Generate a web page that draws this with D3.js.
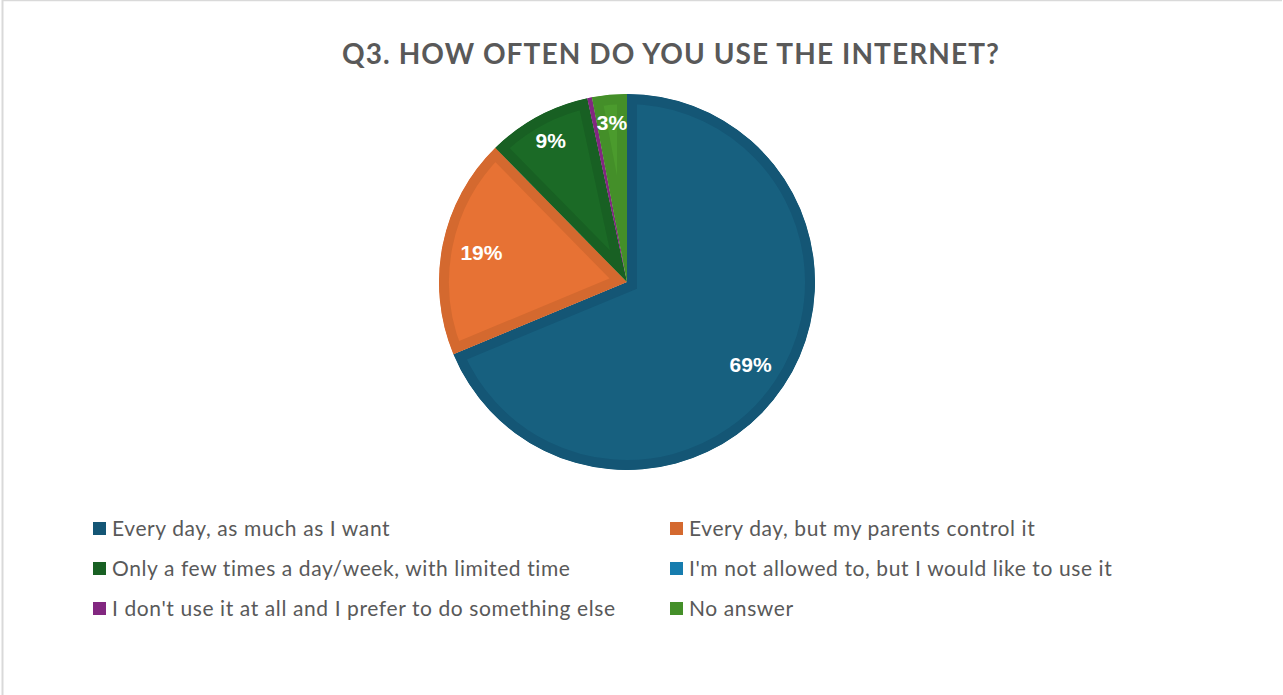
<!DOCTYPE html>
<html>
<head>
<meta charset="utf-8">
<script src="https://cdn.jsdelivr.net/npm/d3@7"></script>
<style>
  html, body { margin: 0; padding: 0; background: #ffffff; }
  svg { display: block; }
</style>
</head>
<body>
<svg id="chart" width="1283" height="695"></svg>
<script>
// Survey answers (share of respondents, %)
const categories = [
  "Every day, as much as I want",
  "Every day, but my parents control it",
  "Only a few times a day/week, with limited time",
  "I'm not allowed to, but I would like to use it",
  "I don't use it at all and I prefer to do something else",
  "No answer"
];
const values = [69, 19, 9, 0, 0.4, 3];
const fillColors   = ["#17607f", "#e77234", "#1b6a26", "#1a8ac0", "#8e2b8c", "#4b9b2d"];
const borderColors = ["#145675", "#d4692f", "#186023", "#167cae", "#822780", "#448f29"];
const title = "Q3. HOW OFTEN DO YOU USE THE INTERNET?";

const W = 1283, H = 695;
const svg = d3.select("#chart");

// chart frame
svg.append("line").attr("x1", 2.5).attr("x2", 2.5).attr("y1", 0).attr("y2", H)
  .attr("stroke", "#d9d9d9").attr("stroke-width", 2);
svg.append("line").attr("x1", 2).attr("x2", 1282).attr("y1", 0.5).attr("y2", 0.5)
  .attr("stroke", "#d9d9d9").attr("stroke-width", 1.5);

// title
svg.append("text")
  .attr("x", 671).attr("y", 64)
  .attr("text-anchor", "middle")
  .attr("font-family", "Lato, 'Open Sans', sans-serif")
  .attr("font-weight", 700)
  .attr("font-size", 28)
  .attr("letter-spacing", 1.1)
  .attr("fill", "#595959")
  .text(title);

// pie
const cx = 627, cy = 282, r = 188, inset = 10;
const data = categories.map((c, i) => ({ name: c, value: values[i], i }));
const pie = d3.pie().value(d => d.value).sort(null);
const arcs = pie(data);
const arc = d3.arc().innerRadius(0).outerRadius(r);

const defs = svg.append("defs");
const slices = svg.append("g");

// each slice: fill plus a darker inner border (stroke clipped to the slice)
arcs.forEach((a, k) => {
  if (a.data.value <= 0) return;
  const id = "slice-clip-" + k;
  defs.append("clipPath").attr("id", id).append("path").attr("d", arc(a))
    .attr("transform", `translate(${cx},${cy})`);
  const sg = slices.append("g").attr("clip-path", `url(#${id})`)
    .append("g").attr("transform", `translate(${cx},${cy})`);
  sg.append("path")
    .attr("d", arc(a))
    .attr("fill", fillColors[a.data.i])
    .attr("stroke", borderColors[a.data.i])
    .attr("stroke-width", inset * 2)
    .attr("stroke-linejoin", "miter");
});

// value labels
const labels = svg.append("g").attr("transform", `translate(${cx},${cy})`);
const total = d3.sum(values);
arcs.forEach(a => {
  const pct = a.data.value / total * 100;
  if (pct < 1) return;
  const lr = pct > 15 ? r * 0.79 : r * 0.855;
  const la = d3.arc().innerRadius(lr).outerRadius(lr);
  const [x, y] = la.centroid(a);
  labels.append("text")
    .attr("x", x).attr("y", y)
    .attr("text-anchor", "middle")
    .attr("dy", "0.36em")
    .attr("font-family", "'Liberation Sans', Arial, sans-serif")
    .attr("font-weight", 700)
    .attr("font-size", 21)
    .attr("fill", "#ffffff")
    .text(Math.round(a.data.value) + "%");
});

// legend: two columns, three rows
const legend = svg.append("g");
const colX = [93, 670], rowY = [529, 569, 609];
data.forEach((d, i) => {
  const col = i % 2, row = Math.floor(i / 2);
  const lg = legend.append("g").attr("transform", `translate(${colX[col]},${rowY[row]})`);
  lg.append("rect").attr("x", 0).attr("y", -7).attr("width", 13).attr("height", 13)
    .attr("fill", borderColors[i]);
  lg.append("text")
    .attr("x", 19).attr("y", 0)
    .attr("dy", "0.35em")
    .attr("font-family", "Lato, 'Open Sans', sans-serif")
    .attr("font-size", 21)
    .attr("letter-spacing", 0.6)
    .attr("fill", "#595959")
    .text(d.name);
});
</script>
</body>
</html>
